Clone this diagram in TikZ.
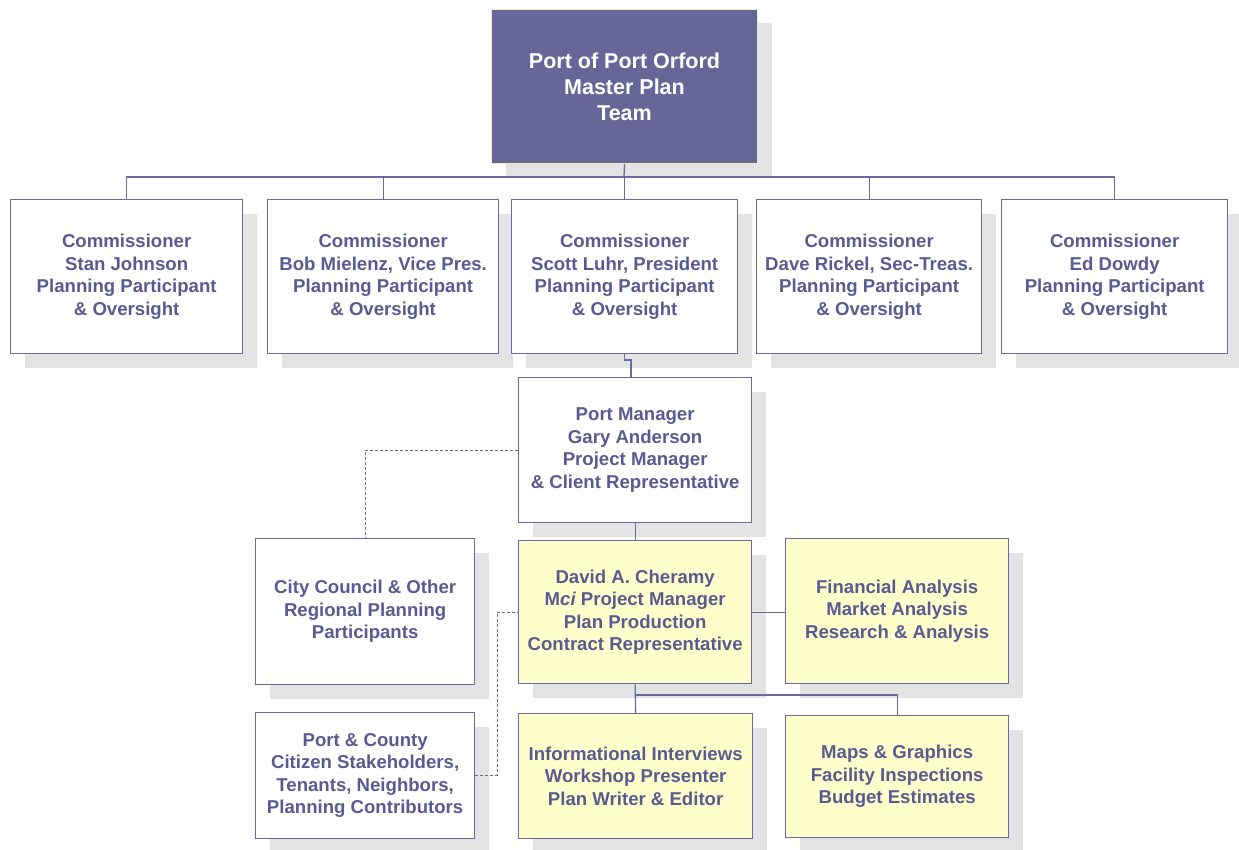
\documentclass[tikz,border=0pt]{standalone}
\usepackage{fontspec}
\setmainfont{Liberation Sans}
\usetikzlibrary{shadows}
\definecolor{topfill}{HTML}{666699}
\definecolor{txt}{HTML}{5A5A92}
\definecolor{ln}{HTML}{6A6AA0}
\definecolor{yel}{HTML}{FFFFCC}
\definecolor{shd}{HTML}{E3E3E3}
\definecolor{topedge}{HTML}{EEEEC4}
\begin{document}
\begin{tikzpicture}[x=1pt,y=-1pt,
  box/.style={draw=ln, line width=1.3pt, fill=white, anchor=north west, inner sep=0pt,
    align=center, text=txt, font=\bfseries\fontsize{18.6}{22.5}\selectfont,
    general shadow={shadow xshift=14pt, shadow yshift=-14pt, fill=shd, draw=none}},
  ybox/.style={box, fill=yel},
  topbox/.style={box, fill=topfill, draw=topedge, line width=1pt, text=white,
    font=\bfseries\fontsize{21.5}{26}\selectfont},
  conn/.style={draw=ln, line width=1.3pt},
  dashconn/.style={draw=ln, line width=1pt, dash pattern=on 3pt off 2pt}]
\useasboundingbox (0,0) rectangle (1239,850);

\node[topbox, minimum width=266pt, minimum height=154pt] (top) at (491,9)
  {Port of Port Orford\\Master Plan\\Team};

\node[box, minimum width=232pt, minimum height=154pt] (c1) at (10,199)
  {Commissioner\\Stan Johnson\\Planning Participant\\\& Oversight};
\node[box, minimum width=231pt, minimum height=154pt] (c2) at (267,199)
  {Commissioner\\Bob Mielenz, Vice Pres.\\Planning Participant\\\& Oversight};
\node[box, minimum width=226pt, minimum height=154pt] (c3) at (511,199)
  {Commissioner\\Scott Luhr, President\\Planning Participant\\\& Oversight};
\node[box, minimum width=225pt, minimum height=154pt] (c4) at (756,199)
  {Commissioner\\Dave Rickel, Sec-Treas.\\Planning Participant\\\& Oversight};
\node[box, minimum width=226pt, minimum height=154pt] (c5) at (1001,199)
  {Commissioner\\Ed Dowdy\\Planning Participant\\\& Oversight};

\node[box, minimum width=233pt, minimum height=145pt] (pm) at (518,377)
  {Port Manager\\Gary Anderson\\Project Manager\\\& Client Representative};

\node[box, minimum width=219pt, minimum height=146pt] (cc) at (255,538)
  {City Council \& Other\\Regional Planning\\Participants};
\node[ybox, minimum width=233pt, minimum height=143pt] (dc) at (518,540)
  {David A. Cheramy\\M{\itshape ci} Project Manager\\Plan Production\\Contract Representative};
\node[ybox, minimum width=223pt, minimum height=145pt] (fa) at (785,538)
  {Financial Analysis\\Market Analysis\\Research \& Analysis};

\node[box, minimum width=219pt, minimum height=126pt] (pc) at (255,712)
  {Port \& County\\Citizen Stakeholders,\\Tenants, Neighbors,\\Planning Contributors};
\node[ybox, minimum width=234pt, minimum height=125pt] (ii) at (518,713)
  {Informational Interviews\\Workshop Presenter\\Plan Writer \& Editor};
\node[ybox, minimum width=223pt, minimum height=122pt] (mg) at (785,715)
  {Maps \& Graphics\\Facility Inspections\\Budget Estimates};

% connectors
\coordinate (bus) at (624,177);
\draw[conn] (top.south) -- (bus);
\draw[conn] (c1.north) |- (c5.north |- bus) -- (c5.north);
\draw[conn] (c2.north) -- (c2.north |- bus);
\draw[conn] (c3.north) -- (c3.north |- bus);
\draw[conn] (c4.north) -- (c4.north |- bus);

\coordinate (jog) at (631,360);
\draw[conn] (c3.south) -- (c3.south |- jog) -- (jog) -- (jog |- pm.north);
\draw[conn] (pm.south) -- (dc.north);
\draw[dashconn] (pm.west) -| (cc.north);
\draw[conn] (dc.east) -- (dc.east -| fa.west);
\coordinate (pd) at (497,0);
\draw[dashconn] (pc.east) -| (pd |- dc.west) -- (dc.west);
\coordinate (lb) at (0,695);
\draw[conn] (dc.south) -- (ii.north);
\draw[conn] (dc.south |- lb) -| (mg.north);
\end{tikzpicture}
\end{document}
